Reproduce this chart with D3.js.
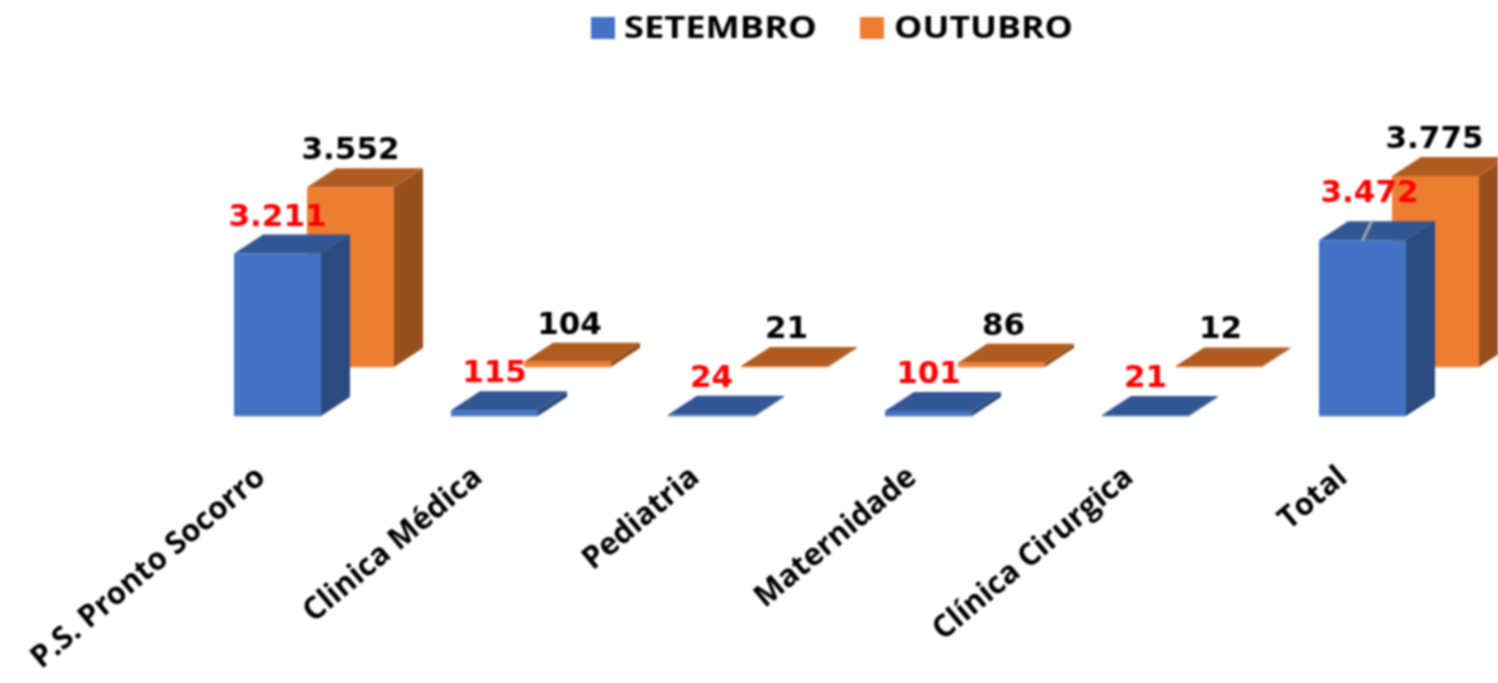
<!DOCTYPE html>
<html><head><meta charset="utf-8">
<script src="https://cdn.jsdelivr.net/npm/d3@7"></script>
<style>html,body{margin:0;padding:0;background:#fff;overflow:hidden}svg{display:block;filter:blur(.8px)}</style>
</head><body><svg id="c" width="1498" height="683"></svg>
<script>
const categories = ["P.S. Pronto Socorro","Clinica Médica","Pediatria","Maternidade","Clínica Cirurgica","Total"];
const setembro = [3211,115,24,101,21,3472];
const outubro = [3552,104,21,86,12,3775];
const seriesNames = ["SETEMBRO","OUTUBRO"];
const labelFmt = v => d3.format(",")(v).replace(/,/g,".");

const W=1498,H=683,barW=87,dx=29,dy=19,base=416;
const svg=d3.select("#c");
const x=d3.scalePoint().domain(categories).range([277.5,1362.5]);
const h=d3.scaleLinear().domain([0,3775]).range([0,191]);
const series=[
 {name:seriesNames[1],vals:outubro,ox:73,oy:-49,front:"#ED7D31",top:"#B05C20",side:"#974F1D",stroke:"#F4A36B",lab:"#000"},
 {name:seriesNames[0],vals:setembro,ox:0,oy:0,front:"#4472C4",top:"#325694",side:"#2A4A80",stroke:"#7A9BD6",lab:"#FF0000"}
];
function poly(p){return "M"+p.map(a=>a.join(",")).join("L")+"Z";}
categories.forEach((c,i)=>{
 series.forEach(s=>{
  const x0=x(c)-barW/2+s.ox,x1=x0+barW,yb=base+s.oy,yt=yb-h(s.vals[i]);
  const g=svg.append("g");
  g.append("path").attr("d",poly([[x1,yb],[x1+dx,yb-dy],[x1+dx,yt-dy],[x1,yt]])).attr("fill",s.side);
  g.append("path").attr("d",poly([[x0,yt],[x0+dx,yt-dy],[x1+dx,yt-dy],[x1,yt]])).attr("fill",s.top);
  g.append("rect").attr("x",x0).attr("y",yt).attr("width",barW).attr("height",yb-yt).attr("fill",s.front);
  g.append("line").attr("x1",x0).attr("x2",x1).attr("y1",yb).attr("y2",yb).attr("stroke",s.stroke).attr("stroke-width",1);
 });
});
// leader line on Total
const tc=x("Total"),tt=base-h(setembro[5]);
svg.append("line").attr("x1",tc).attr("y1",tt).attr("x2",tc+9).attr("y2",tt-19).attr("stroke","#A6A6A6").attr("stroke-width",3);
// data labels
series.forEach(s=>{
 svg.append("g").selectAll("text").data(categories).join("text")
  .attr("x",(c,i)=>{
    const v=s.vals[i];
    let px=x(c)+s.ox;
    if(s.ox>0) px+= v<1000?2:(c==="Total"?-1:0);
    if(s.ox===0 && c==="Total") px+=7;
    return px;
  })
  .attr("y",(c,i)=>{
    let py=base+s.oy-h(s.vals[i])-28;
    if(s.ox===0 && c==="Total") py-=10;
    return py;
  })
  .attr("text-anchor","middle").attr("fill",s.lab)
  .attr("font-family","'DejaVu Sans'").attr("font-weight","700").attr("font-size",31)
  .text((c,i)=>labelFmt(s.vals[i]));
});
// category axis
const ax=svg.append("g").attr("transform",`translate(0,${base})`).call(d3.axisBottom(x).tickSize(0));
ax.select(".domain").remove();
ax.selectAll("text").attr("fill","#000").attr("font-family","'Open Sans'").attr("font-weight","700").attr("font-size",31)
 .attr("text-anchor","end").attr("dy",0).attr("y",0)
 .attr("transform",c=>`translate(${c==="Total"?-14:-11},64) rotate(-40)`);
// legend
const leg=[{t:seriesNames[0],c:"#4472C4",sx:591,tx:624,w:193},{t:seriesNames[1],c:"#ED7D31",sx:860,tx:894,w:179}];
leg.forEach(l=>{
 svg.append("rect").attr("x",l.sx).attr("y",17).attr("width",24).attr("height",22).attr("fill",l.c);
 svg.append("text").attr("x",l.tx).attr("y",38).attr("font-family","'Open Sans'").attr("font-weight","700").attr("font-size",31).attr("fill","#000")
  .attr("textLength",l.w).attr("lengthAdjust","spacingAndGlyphs").text(l.t);
});
</script></body></html>
